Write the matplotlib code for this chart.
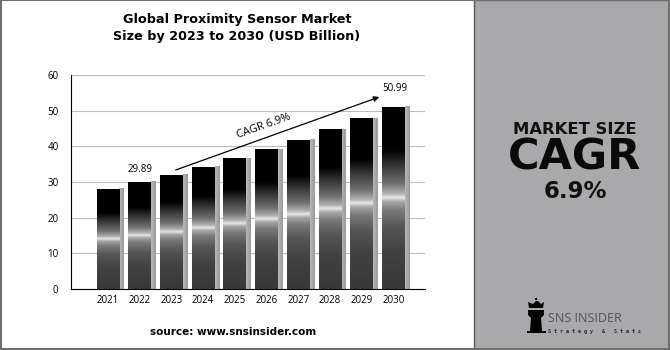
import numpy as np
import matplotlib
matplotlib.use("Agg")
import matplotlib.pyplot as plt
from matplotlib.colors import LinearSegmentedColormap
from matplotlib.patches import Rectangle, Polygon

# data
years = ["2021", "2022", "2023", "2024", "2025", "2026", "2027", "2028", "2029", "2030"]
values = [27.96, 29.89, 31.95, 34.16, 36.52, 39.04, 41.73, 44.61, 47.69, 50.99]
yticks = [0, 10, 20, 30, 40, 50, 60]
cagr_label = "CAGR 6.9%"
first_label, last_label = "29.89", "50.99"

fig = plt.figure(figsize=(6.7, 3.5), dpi=100)
fig.patch.set_facecolor("white")

# right grey panel
fig.patches.append(Rectangle((474 / 670, 0), 1 - 474 / 670, 1, transform=fig.transFigure,
                             facecolor="#a9a9ac", edgecolor="#5a5a5a", lw=1.0, zorder=0))
# outer border
fig.patches.append(Rectangle((0.001, 0.004), 0.998, 0.995, transform=fig.transFigure,
                             facecolor="none", edgecolor="#6f6f6f", lw=1.5, zorder=5))

ax = fig.add_axes([71 / 670, 1 - 289 / 350, (425 - 71) / 670, (289 - 75) / 350])
ax.set_facecolor("white")
ax.set_yticks(yticks)
ax.set_yticklabels([str(t) for t in yticks], fontsize=7, family="Open Sans")
ax.set_xticks(range(len(years)))
ax.set_xticklabels(years, fontsize=7, family="Open Sans")
ax.tick_params(length=0, pad=4)
ax.tick_params(axis="y", pad=9)
for s in ["top", "right"]:
    ax.spines[s].set_visible(False)
ax.spines["left"].set_color("black")
ax.spines["bottom"].set_color("black")
ax.grid(axis="y", color="#bdbdbd", lw=0.8, zorder=0)
ax.set_axisbelow(True)

# metallic bar gradient (fraction from bottom)
cmap = LinearSegmentedColormap.from_list("metal", [
    (0.0, "#383838"), (0.21, "#424242"), (0.34, "#555555"), (0.433, "#7a7a7a"),
    (0.48, "#a8a8a8"), (0.503, "#e8e8e8"), (0.525, "#b0b0b0"), (0.58, "#707070"),
    (0.672, "#3a3a3a"), (0.764, "#000000"), (1.0, "#000000")])
grad = np.linspace(0, 1, 256).reshape(-1, 1)
shadow_cmap = LinearSegmentedColormap.from_list("sh", ["#b8b8b8", "#9a9a9a"])
hgrad = np.linspace(0, 1, 32).reshape(1, -1)

bw = 0.72
for i, v in enumerate(values):
    x0 = i - bw / 2
    ax.imshow(hgrad, extent=[x0 + bw, x0 + bw + 0.15, 0, v + 0.2], aspect="auto",
              cmap=shadow_cmap, origin="lower", zorder=2)
    ax.imshow(grad, extent=[x0, x0 + bw, 0, v], aspect="auto", cmap=cmap,
              origin="lower", zorder=3)
ax.set_xlim(-1.17, 10.0)
ax.set_ylim(0, 60)

# value labels
ax.text(1, values[1] + 2.2, first_label, ha="center", va="bottom", fontsize=7, family="Open Sans")
ax.text(9.05, values[9] + 3.6, last_label, ha="center", va="bottom", fontsize=7, family="Open Sans")

# CAGR arrow
ax.annotate("", xy=(8.64, 54.1), xytext=(2.05, 33.1),
            arrowprops=dict(arrowstyle="-|>", color="black", lw=0.9, mutation_scale=8), zorder=6)
ax.text(4.9, 45.5, cagr_label, rotation=19.5, ha="center", va="center", fontsize=8,
        family="Open Sans", rotation_mode="anchor")

# title and source
fig.text(237 / 670, 1 - 28 / 350, "Global Proximity Sensor Market\nSize by 2023 to 2030 (USD Billion)",
         ha="center", va="center", fontsize=9.2, fontweight="bold", family="DejaVu Sans",
         linespacing=1.35)
fig.text(233 / 670, 1 - 332 / 350, "source: www.snsinsider.com", ha="center", va="center",
         fontsize=7.5, fontweight="bold", family="DejaVu Sans")

# right panel text
fig.text(575 / 670, 1 - 129 / 350, "MARKET SIZE", ha="center", va="center", fontsize=11.8,
         fontweight="heavy", family="DejaVu Sans", color="#111111")
fig.text(575 / 670, 1 - 157 / 350, "CAGR", ha="center", va="center", fontsize=31,
         fontweight="heavy", family="DejaVu Sans", color="#0a0a0a")
fig.text(575 / 670, 1 - 192 / 350, "6.9%", ha="center", va="center", fontsize=16.5,
         fontweight="heavy", family="DejaVu Sans", color="#111111")

# logo
fig.text(548 / 670, 1 - 318 / 350, "SNS INSIDER", ha="left", va="center", fontsize=9,
         family="Open Sans", color="#555555")
fig.text(548 / 670, 1 - 332 / 350, "S t r a t e g y   &   S t a t s", ha="left", va="center",
         fontsize=3.6, family="DejaVu Sans Mono", fontweight="bold", color="#222222")
rook = [(527, 333), (546, 333), (546, 331), (542, 331), (541, 318), (544, 315), (544, 310),
        (528, 310), (528, 315), (531, 318), (530, 331), (527, 331)]
fig.patches.append(Polygon([(x / 670, 1 - y / 350) for x, y in rook], closed=True,
                           transform=fig.transFigure, facecolor="black", zorder=3))
crown = [(529, 308), (543, 308), (544, 302), (541, 304), (538, 301), (536, 301), (533, 304),
         (528, 302)]
fig.patches.append(Polygon([(x / 670, 1 - y / 350) for x, y in crown], closed=True,
                           transform=fig.transFigure, facecolor="black", zorder=3))
fig.patches.append(Rectangle((535 / 670, 1 - 300 / 350), 2 / 670, 2 / 350,
                             transform=fig.transFigure, facecolor="black", zorder=3))

fig.savefig("out.png", dpi=100)
